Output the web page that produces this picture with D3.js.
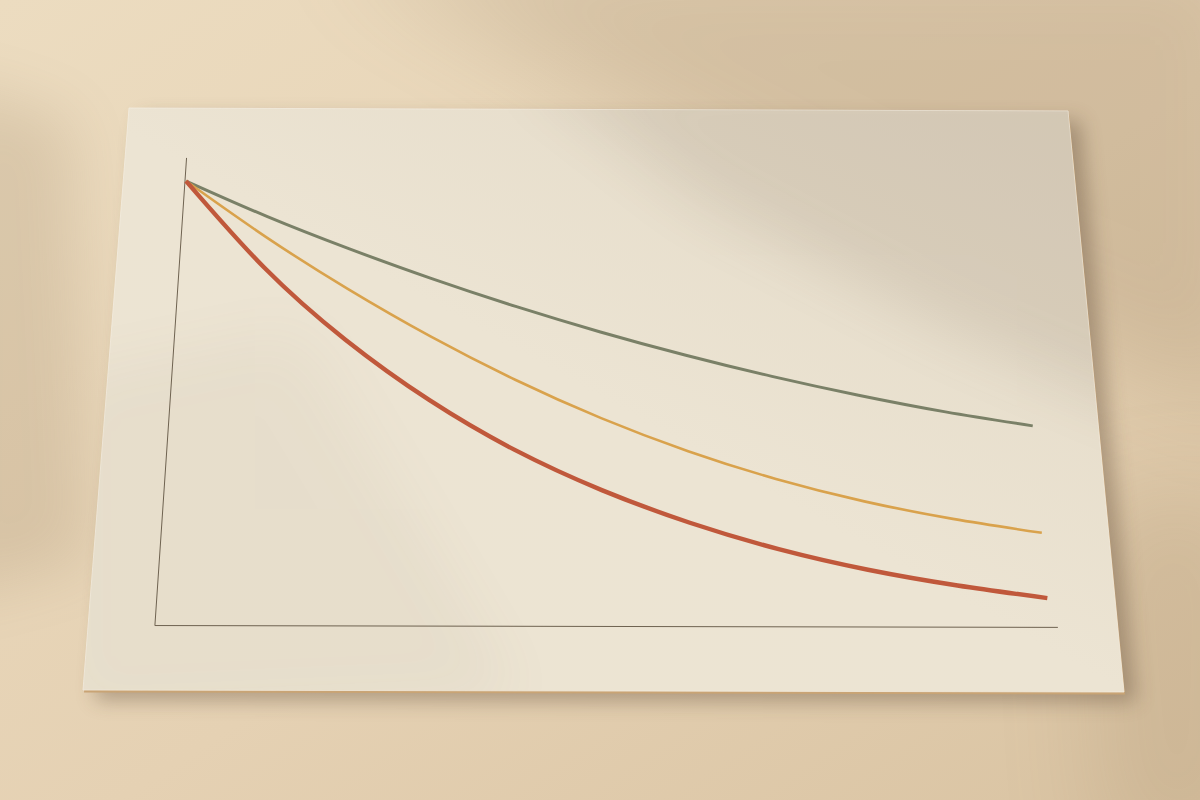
<!DOCTYPE html>
<html>
<head>
<meta charset="utf-8">
<script src="https://cdn.jsdelivr.net/npm/d3@7"></script>
<style>
html,body{margin:0;padding:0;overflow:hidden;background:#e3cfb0;}
svg{display:block;}
</style>
</head>
<body>
<svg id="chart" width="1200" height="800"></svg>
<script>
// ---- data ----
const xValues = [0, 1, 2, 3, 4, 5, 6, 7, 8, 9, 10];
const seriesNames = ["green", "orange", "red"];
const greenValues  = [100, 92.1, 84.9, 78.2, 72.0, 66.3, 61.1, 56.4, 52.2, 48.5, 45.4];
const orangeValues = [100, 87.5, 75.9, 65.2, 55.5, 46.9, 39.5, 33.3, 28.3, 24.4, 21.3];
const redValues    = [100, 80.6, 64.4, 50.9, 39.7, 30.7, 23.4, 17.5, 12.9, 9.4, 6.6];
const seriesColors = ["#7a8067", "#d9a24c", "#c0583b"];
const seriesWidths = [3, 2.6, 4.4];
const seriesValues = [greenValues, orangeValues, redValues];

// ---- flat card space and its placement in the photo ----
const W = 1000, H = 600;
const TL = [129, 108], TR = [1068, 111], BR = [1124, 692], BL = [83, 690];
function project(fx, fy) {
  const u = fx / W, v = fy / H;
  const x = (1 - v) * ((1 - u) * TL[0] + u * TR[0]) + v * ((1 - u) * BL[0] + u * BR[0]);
  const y = (1 - v) * ((1 - u) * TL[1] + u * TR[1]) + v * ((1 - u) * BL[1] + u * BR[1]);
  return [x, y];
}

const svg = d3.select("#chart");
const defs = svg.append("defs");

// gradients
const bg = defs.append("linearGradient").attr("id", "bg").attr("x1", 0).attr("y1", 0).attr("x2", 1).attr("y2", 1);
bg.append("stop").attr("offset", 0).attr("stop-color", "#ecdcc0");
bg.append("stop").attr("offset", 0.55).attr("stop-color", "#e5d1b3");
bg.append("stop").attr("offset", 1).attr("stop-color", "#d9c3a2");

const cardG = defs.append("linearGradient").attr("id", "cardG").attr("x1", 0).attr("y1", 1).attr("x2", 1).attr("y2", 0);
cardG.append("stop").attr("offset", 0).attr("stop-color", "#ece4d2");
cardG.append("stop").attr("offset", 0.5).attr("stop-color", "#ece4d3");
cardG.append("stop").attr("offset", 1).attr("stop-color", "#e2d8c5");

[["b4", 4], ["b10", 10], ["b30", 30], ["b50", 50]].forEach(([id, s]) => {
  defs.append("filter").attr("id", id).attr("x", "-50%").attr("y", "-50%").attr("width", "200%").attr("height", "200%")
    .append("feGaussianBlur").attr("stdDeviation", s);
});

const cardCorners = [[0, 0], [W, 0], [W, H], [0, H]].map(p => project(p[0], p[1]));
const poly = pts => pts.map(p => p.join(",")).join(" ");

defs.append("clipPath").attr("id", "cardClip").append("polygon").attr("points", poly(cardCorners));

// background
svg.append("rect").attr("width", 1200).attr("height", 800).attr("fill", "url(#bg)");
// soft shadows on the wall
svg.append("polygon").attr("points", "330,-60 1260,-60 1260,420 980,300 640,120")
  .attr("fill", "#7a5e3e").attr("opacity", 0.18).attr("filter", "url(#b50)");
svg.append("polygon").attr("points", "-60,80 70,120 90,560 -60,600")
  .attr("fill", "#7a5e3e").attr("opacity", 0.15).attr("filter", "url(#b30)");
svg.append("polygon").attr("points", "1080,500 1260,480 1260,860 1100,860")
  .attr("fill", "#7a5e3e").attr("opacity", 0.13).attr("filter", "url(#b50)");

// card drop shadow
svg.append("polygon").attr("points", poly(cardCorners.map(p => [p[0] + 12, p[1] + 10])))
  .attr("fill", "#4e3825").attr("opacity", 0.35).attr("filter", "url(#b10)");
// card thickness edge
svg.append("polygon").attr("points", poly(cardCorners.map(p => [p[0] + 1, p[1] + 2.5])))
  .attr("fill", "#c9a475");
// card face
svg.append("polygon").attr("points", poly(cardCorners)).attr("fill", "url(#cardG)")
  .attr("stroke", "#f3ece0").attr("stroke-width", 0.8);
// light shading on the card
const shade = svg.append("g").attr("clip-path", "url(#cardClip)");
shade.append("polygon").attr("points", "520,60 1160,60 1160,420 950,330 700,200")
  .attr("fill", "#6e5640").attr("opacity", 0.13).attr("filter", "url(#b30)");
shade.append("polygon").attr("points", "60,380 300,330 520,700 60,720")
  .attr("fill", "#8a7258").attr("opacity", 0.05).attr("filter", "url(#b30)");

// ---- chart in flat space ----
const x = d3.scaleLinear().domain([0, 10]).range([66, 934]);
const y = d3.scaleLinear().domain([0, 100]).range([533.4, 75.1]);

const plot = svg.append("g");
const straight = d3.line();

// axes
const axisColor = "#6e6250";
plot.append("path")
  .attr("d", straight([project(x(-0.013), y(105.2)), project(x(-0.013), y(0))]))
  .attr("stroke", axisColor).attr("stroke-width", 1).attr("fill", "none");
plot.append("path")
  .attr("d", straight([project(x(-0.013), y(0)), project(x(10.09), y(0))]))
  .attr("stroke", axisColor).attr("stroke-width", 1).attr("fill", "none");

// series lines (smooth spline through the projected data points)
const curve = d3.line().curve(d3.curveNatural);
seriesValues.forEach((vals, i) => {
  const pts = xValues.map((xv, j) => project(x(xv), y(vals[j])));
  plot.append("path")
    .attr("class", "series " + seriesNames[i])
    .attr("d", curve(pts))
    .attr("fill", "none")
    .attr("stroke", seriesColors[i])
    .attr("stroke-width", seriesWidths[i])
    .attr("stroke-linecap", "butt")
    .attr("stroke-linejoin", "round");
});
</script>
</body>
</html>
